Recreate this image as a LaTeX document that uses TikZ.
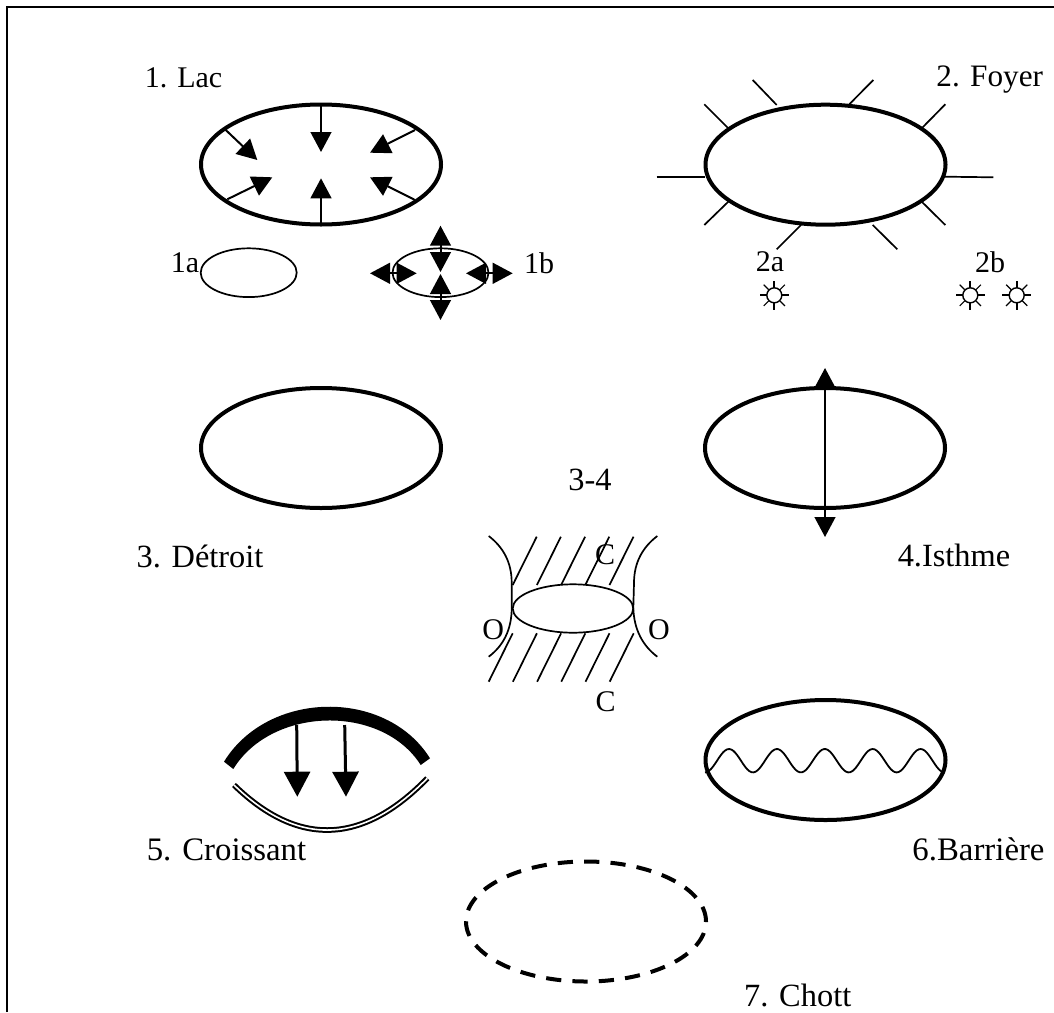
\documentclass[tikz,border=0pt]{standalone}
\usepackage{fontspec}
\setmainfont{Liberation Serif}
\usetikzlibrary{arrows.meta,shapes.geometric}
\tikzset{
  x=0.5pt,y=-0.5pt,
  lab/.style={inner sep=0pt,font=\fontsize{15pt}{17pt}\selectfont},
  mlab/.style={inner sep=0pt,font=\fontsize{15.6pt}{17pt}\selectfont},
  blab/.style={inner sep=0pt,font=\fontsize{16.2pt}{18pt}\selectfont},
  bigell/.style={draw,ellipse,line width=2pt,minimum width=120pt,minimum height=60pt,inner sep=0pt,outer sep=0pt},
  smallell/.style={draw,ellipse,line width=0.85pt,minimum width=48pt,minimum height=24.4pt,inner sep=0pt,outer sep=0pt},
  inarrow/.style={line width=1pt,-{Triangle[length=10pt,width=10.4pt]}},
  dblarrow/.style={line width=1pt,{Triangle[length=10pt,width=10.4pt]}-{Triangle[length=10pt,width=10.4pt]}},
  fatarrow/.style={line width=1.5pt,-{Triangle[length=12.5pt,width=13pt]}},
  thin line/.style={line width=0.85pt},
  sun/.pic={
    \draw[line width=0.7pt] (0,0) circle (7.5);
    \foreach \a in {0,90,180,270} \draw[line width=0.85pt] (\a:7.5) -- (\a:14.5);
    \foreach \a in {45,135,225,315} \draw[line width=0.6pt] (\a:8) -- (\a:15);
  }
}
\begin{document}
\begin{tikzpicture}
\useasboundingbox (0,0) rectangle (1054,1012);
% frame
\coordinate (fbl) at (7,1012);
\coordinate (ftl) at (7,7);
\coordinate (ftr) at (1054,7);
\draw[line width=1pt] (fbl) -- (ftl) -- (ftr);
% 1
\node[lab] (t1) at (183.5,78) {1. Lac};
\node[bigell] (e1) at (321,164.5) {};
\coordinate (a1s) at (225,129.3); \coordinate (a1e) at (257.3,160);
\coordinate (a2s) at (321,105); \coordinate (a2e) at (321,152);
\coordinate (a3s) at (415,130); \coordinate (a3e) at (370,152.7);
\coordinate (a4s) at (227.3,199.3); \coordinate (a4e) at (272.3,177.3);
\coordinate (a5s) at (321,224); \coordinate (a5e) at (321,178.3);
\coordinate (a6s) at (415,200); \coordinate (a6e) at (370,177.3);
\foreach \n in {1,...,6} \draw[inarrow] (a\n s) -- (a\n e);
\node[lab] (t1a) at (185,263) {1a};
\node[smallell] (e1a) at (248.7,272.7) {};
\node[smallell] (e1b) at (440.5,272.7) {};
\node[lab] (t1b) at (539,263) {1b};
\coordinate (b1) at (440.5,225.7); \coordinate (b2) at (440.5,272);
\coordinate (b3) at (440.5,320); \coordinate (b4) at (440.5,274);
\coordinate (b5) at (370,273.3); \coordinate (b6) at (416.7,273.3);
\coordinate (b7) at (466,273.3); \coordinate (b8) at (512.7,273.3);
\draw[dblarrow] (b1) -- (b2);
\draw[dblarrow] (b3) -- (b4);
\draw[dblarrow] (b5) -- (b6);
\draw[dblarrow] (b7) -- (b8);
% 2
\node[mlab] (t2) at (989.7,80) {2. Foyer};
\node[bigell] (e2) at (825.5,164.7) {};
\foreach \i/\p/\q in {1/{752.7,80}/{776.7,105},2/{873.3,80}/{849.3,104.3},3/{704.3,104.3}/{728.3,128.3},4/{945.3,104.3}/{921.7,128.3},5/{656.7,176.7}/{705,176.7},6/{993.3,177.3}/{945,176.7},7/{704.3,225}/{728.3,201.7},8/{945.3,225}/{921.7,201.7},9/{776.7,249.3}/{801,225},10/{897.3,249.3}/{872.7,225}}
  \draw[thin line] (\p) -- (\q);
\node[lab] (t2a) at (770,262) {2a};
\node[lab] (t2b) at (990,262) {2b};
\pic at (774.3,295.3) {sun};
\pic at (970.3,295.3) {sun};
\pic at (1016.7,295.3) {sun};
% 3-4
\node[bigell] (e3) at (321,448) {};
\node[bigell] (e4) at (825,448) {};
\coordinate (i1) at (825,368); \coordinate (i2) at (825,537);
\draw[dblarrow] (i1) -- (i2);
\node[blab] (t34) at (590,480) {3-4};
\node[blab] (t3) at (200,556) {3. Détroit};
\node[blab] (t4) at (954,555) {4.Isthme};
% strait
\node[smallell,minimum width=60.3pt,minimum height=24.2pt] (e34) at (573,608.5) {};
\foreach \k in {0,...,4}
  \draw[thin line] ({536.7+24.2*\k},536.7) -- ({512.7+24.2*\k},585);
\foreach \k in {0,...,5}
  \draw[thin line] ({512.7+24.2*\k},633.3) -- ({488.7+24.2*\k},681.7);
\draw[thin line] (488.7,536) .. controls (503,547) and (511.7,562) .. (511.7,583) -- (511.7,608) .. controls (511.7,630) and (503,646) .. (488.7,656.7);
\draw[thin line] (657.3,536) .. controls (643,547) and (634,562) .. (634,583) -- (633.3,608) .. controls (634,630) and (643,646) .. (657.3,656.7);
\node[lab] (tc1) at (605,555) {C};
\node[lab] (to1) at (493.3,629.3) {O};
\node[lab] (to2) at (659,629.3) {O};
\node[lab] (tc2) at (605.7,701.7) {C};
% 5
\fill (224,761.7) .. controls (268,690) and (386,688) .. (430,758.3) -- (420.7,765) .. controls (382,704) and (272,706) .. (233.3,769) -- cycle;
\draw[line width=1pt,double=white,double distance=0.8pt] (234,785) .. controls (298,847.2) and (362.4,845) .. (427.3,778.3);
\coordinate (c1s) at (296.7,725); \coordinate (c1e) at (297.3,796.7);
\coordinate (c2s) at (344.7,725); \coordinate (c2e) at (346,796.7);
\draw[fatarrow] (c1s) -- (c1e);
\draw[fatarrow] (c2s) -- (c2e);
\node[blab,font=\fontsize{16.4pt}{18pt}\selectfont] (t5) at (226.5,850) {5. Croissant};
% 6
\node[bigell] (e6) at (825.5,760) {};
\draw[line width=0.9pt,smooth] plot[domain=705:945,samples=120] (\x,{760.7-11.7*cos((\x-729)/47.9*360)});
\node[blab,font=\fontsize{16.4pt}{18pt}\selectfont] (t6) at (978.5,849) {6.Barrière};
% 7
\node[bigell,dash pattern=on 7.6pt off 5.6pt] (e7) at (586,921.5) {};
\node[blab] (t7) at (797.7,995.5) {7. Chott};
\end{tikzpicture}
\end{document}
